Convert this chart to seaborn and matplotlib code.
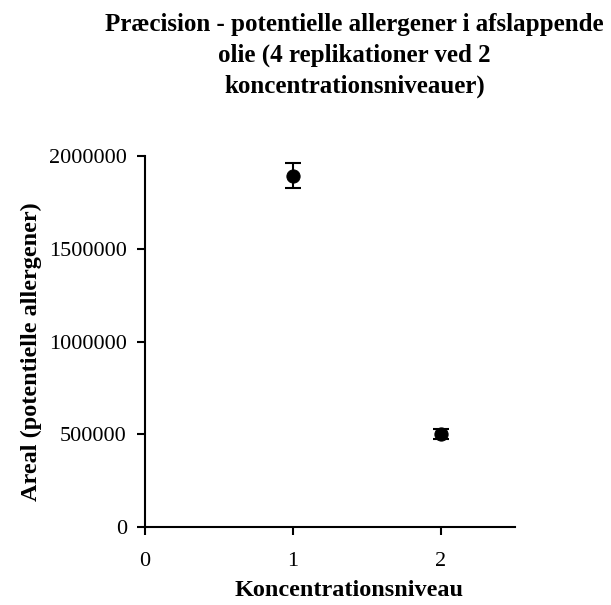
import numpy as np
import pandas as pd
import matplotlib
matplotlib.use("Agg")
import matplotlib.pyplot as plt
import seaborn as sns

# ── Data ──────────────────────────────────────────────────────────────────────
niveau = [1, 2]
areal = [1895000, 501000]
fejl = [67000, 25000]

df = pd.DataFrame({"niveau": niveau, "areal": areal, "fejl": fejl})

# ── Style ─────────────────────────────────────────────────────────────────────
sns.set_style("ticks")
plt.rcParams["font.family"] = ["Liberation Serif", "DejaVu Serif"]
plt.rcParams["text.color"] = "black"
plt.rcParams["axes.labelcolor"] = "black"

fig = plt.figure(figsize=(6.11, 6.05), dpi=100)
ax = fig.add_axes([0.2373, 0.129, 0.6057, 0.613])

ax.errorbar(df["niveau"], df["areal"], yerr=df["fejl"], fmt="none",
            ecolor="black", elinewidth=1.5, capsize=5.5, capthick=1.5, zorder=2)
sns.scatterplot(data=df, x="niveau", y="areal", ax=ax, color="black",
                s=90, edgecolor="black", zorder=3, legend=False)

ax.set_xlim(0, 2.5)
ax.set_ylim(0, 2000000)
ax.set_xticks([0, 1, 2])
ax.set_yticks([0, 500000, 1000000, 1500000, 2000000])
ax.set_yticklabels(["0", "500000", "1000000", "1500000", "2000000"])
ax.tick_params(axis="both", labelsize=16, length=6, width=1.5,
               color="black", labelcolor="black", direction="out")
ax.tick_params(axis="x", pad=12)
ax.tick_params(axis="y", pad=7)
for s in ["left", "bottom"]:
    ax.spines[s].set_linewidth(1.5)
    ax.spines[s].set_color("black")
sns.despine(ax=ax)

ax.set_xlabel("Koncentrationsniveau", fontsize=17.5, fontweight="bold")
ax.set_ylabel("Areal (potentielle allergener)", fontsize=17.5, fontweight="bold")
ax.xaxis.set_label_coords(0.551, -0.143)
ax.yaxis.set_label_coords(-0.278, 0.474)

fig.text(0.58, 0.978,
         "Præcision - potentielle allergener i afslappende\n"
         "olie (4 replikationer ved 2\n"
         "koncentrationsniveauer)",
         ha="center", va="top", fontsize=18, fontweight="bold",
         linespacing=1.42)

plt.savefig("out.png", dpi=100)
